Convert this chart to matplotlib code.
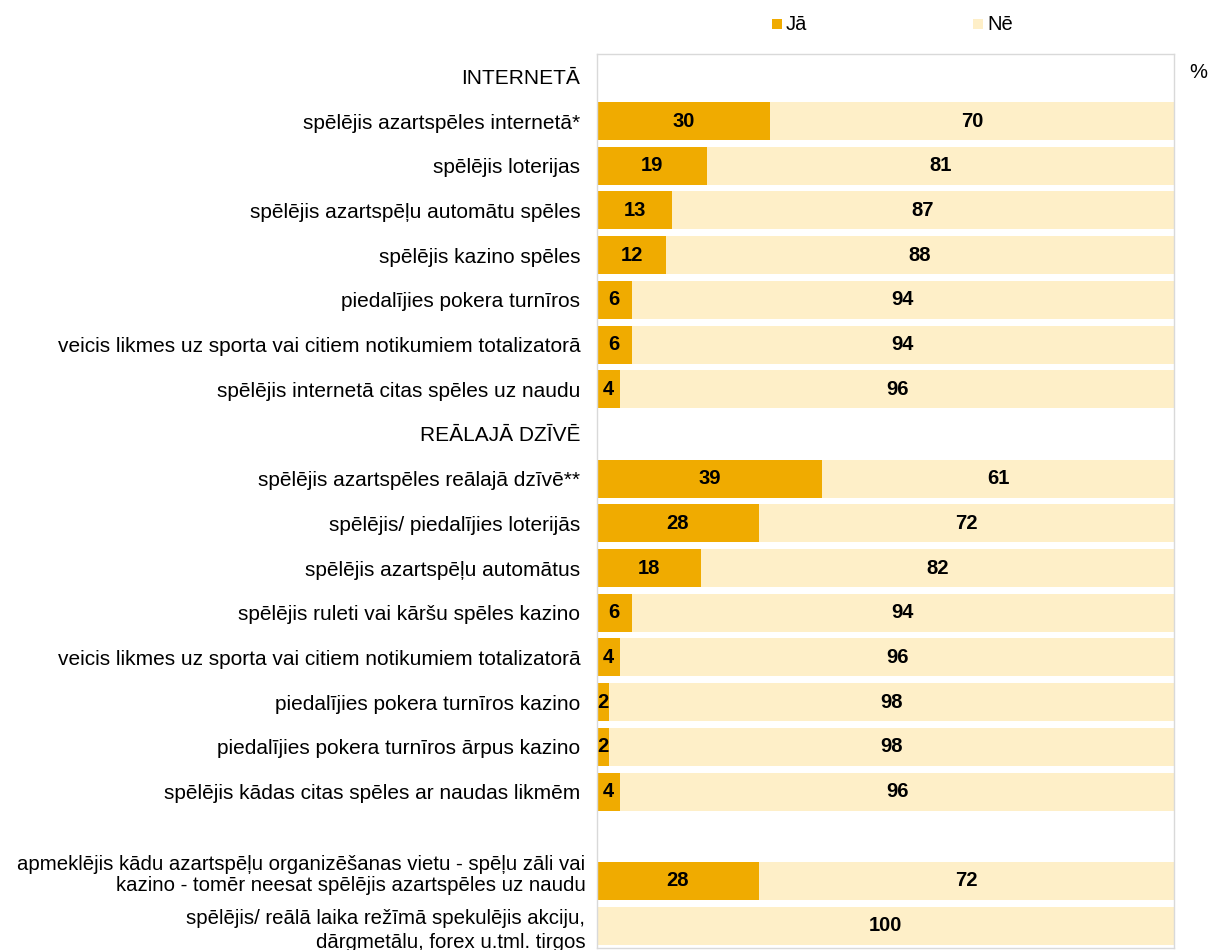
import matplotlib
matplotlib.use("Agg")
import matplotlib.pyplot as plt
from matplotlib.patches import Rectangle
from matplotlib.transforms import ScaledTranslation

plt.rcParams['font.family'] = ['Liberation Sans', 'DejaVu Sans']

categories = [
    "INTERNETĀ",
    "spēlējis azartspēles internetā*",
    "spēlējis loterijas",
    "spēlējis azartspēļu automātu spēles",
    "spēlējis kazino spēles",
    "piedalījies pokera turnīros",
    "veicis likmes uz sporta vai citiem notikumiem totalizatorā",
    "spēlējis internetā citas spēles uz naudu",
    "REĀLAJĀ DZĪVĒ",
    "spēlējis azartspēles reālajā dzīvē**",
    "spēlējis/ piedalījies loterijās",
    "spēlējis azartspēļu automātus",
    "spēlējis ruleti vai kāršu spēles kazino",
    "veicis likmes uz sporta vai citiem notikumiem totalizatorā",
    "piedalījies pokera turnīros kazino",
    "piedalījies pokera turnīros ārpus kazino",
    "spēlējis kādas citas spēles ar naudas likmēm",
    "",
    "apmeklējis kādu azartspēļu organizēšanas vietu - spēļu zāli vai\nkazino - tomēr neesat spēlējis azartspēles uz naudu",
    "spēlējis/ reālā laika režīmā spekulējis akciju,\ndārgmetālu, forex u.tml. tirgos",
]
ja = [None, 30, 19, 13, 12, 6, 6, 4, None, 39, 28, 18, 6, 4, 2, 2, 4, None, 28, 0]
ne = [None, 70, 81, 87, 88, 94, 94, 96, None, 61, 72, 82, 94, 96, 98, 98, 96, None, 72, 100]
legend_labels = ["Jā", "Nē"]

c_ja = "#F0AB00"
c_ne = "#FEEFC8"

W, H = 1218, 950
fig = plt.figure(figsize=(W / 100, H / 100), dpi=100)
ax = fig.add_axes([597 / W, 1 - 948 / H, (1174 - 597) / W, (948 - 54) / H])

n = len(categories)
ys = list(range(n))
h = 0.85
for y, a, b in zip(ys, ja, ne):
    if a is None:
        continue
    ax.barh(y, a, height=h, color=c_ja, edgecolor='none')
    ax.barh(y, b, left=a, height=h, color=c_ne, edgecolor='none')
    if a > 0:
        ax.text(a / 2, y, str(a), ha='center', va='center', fontsize=14.5,
                fontweight='bold', color='black')
    ax.text(a + b / 2, y, str(b), ha='center', va='center', fontsize=14.5,
            fontweight='bold', color='black')

ax.set_xlim(0, 100)
ax.set_ylim(n - 0.5, -0.5)
ax.set_yticks(ys)
ax.set_yticklabels(categories, fontsize=15, ha='right', linespacing=1.2)
ax.tick_params(axis='y', length=0, pad=12)
ax.set_xticks([])
for s in ax.spines.values():
    s.set_color('#D9D9D9')
    s.set_linewidth(1)

# fine-tune the two multi-line labels
tls = ax.get_yticklabels()
tls[18].set_fontsize(14.7)
tls[18].set_linespacing(1.15)
tls[18].set_transform(tls[18].get_transform() + ScaledTranslation(5 / 100, 9 / 100, fig.dpi_scale_trans))
tls[19].set_fontsize(14.7)
tls[19].set_linespacing(1.35)
tls[19].set_transform(tls[19].get_transform() + ScaledTranslation(5 / 100, 0, fig.dpi_scale_trans))

fig.text(1198 / W, 1 - 73 / H, "%", fontsize=14.5, ha='center', va='center')

# legend
for x0, col, lab in zip([772, 973], [c_ja, c_ne], legend_labels):
    fig.patches.append(Rectangle((x0 / W, 1 - 29 / H), 10 / W, 10.5 / H,
                                 transform=fig.transFigure, facecolor=col,
                                 edgecolor='none'))
    fig.text((x0 + 14) / W, 1 - 24 / H, lab, fontsize=14.5, ha='left', va='center')

fig.savefig("out.png", dpi=100)
